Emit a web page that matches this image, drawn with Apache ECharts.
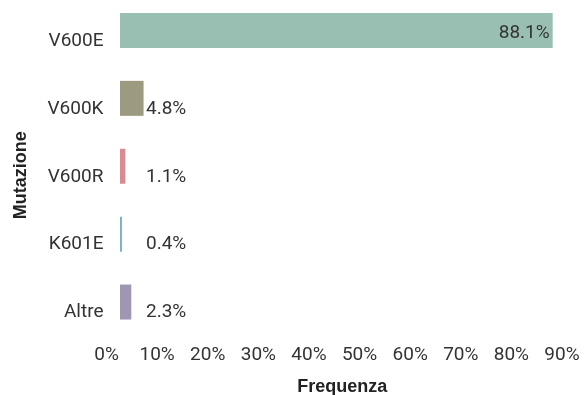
<!DOCTYPE html>
<html lang="it">
<head>
    <meta charset="UTF-8">
    <title>Mutazioni</title>
    <script src="https://cdn.jsdelivr.net/npm/echarts@6/dist/echarts.min.js"></script>
    <style>
        html, body { margin: 0; padding: 0; background: #fff; }
        #chart { width: 584px; height: 395px; }
    </style>
</head>
<body>
    <div id="chart"></div>
    <script>
        // dati
        var mutazioni = ['V600E', 'V600K', 'V600R', 'K601E', 'Altre'];
        var frequenze = [88.1, 4.8, 1.1, 0.4, 2.3];
        var colori = ['#99BFB2', '#9C9A81', '#D98C8F', '#7AB2C6', '#9F97B2'];
        var tickMax = 90;

        var myChart = echarts.init(document.getElementById('chart'));

        var serieDati = frequenze.map(function (v, i) {
            var d = { value: v, itemStyle: { color: colori[i] } };
            if (i === 0) {
                // la barra lunga ha l'etichetta dentro
                d.label = { position: 'insideRight', align: 'right', distance: 3, offset: [0, 3] };
            }
            return d;
        });

        myChart.setOption({
            animation: false,
            textStyle: { fontFamily: 'Roboto' },
            grid: { left: 106.5, right: 22, top: -3.5, bottom: 59, outerBoundsMode: 'none' },
            xAxis: [{
                type: 'value',
                min: 0,
                max: tickMax,
                interval: 10,
                axisLine: { show: false },
                axisTick: { show: false },
                splitLine: { show: false },
                axisLabel: { formatter: '{value}%', color: '#333', fontSize: 19, margin: 10 },
                name: 'Frequenza',
                nameLocation: 'middle',
                nameGap: 42,
                nameTextStyle: { fontWeight: 'bold', fontSize: 18, color: '#222', fontFamily: 'Liberation Sans', padding: [0, 0, 0, 16] }
            }, {
                // asse nascosto per le barre (partono un po' a destra dello 0%)
                type: 'value',
                min: -2.75,
                max: tickMax,
                show: false
            }],
            yAxis: {
                type: 'category',
                inverse: true,
                data: mutazioni,
                axisLine: { show: false, onZero: false },
                axisTick: { show: false },
                axisLabel: { color: '#333', fontSize: 19, margin: 3, verticalAlign: 'top', lineHeight: 21 },
                name: 'Mutazione',
                nameLocation: 'middle',
                nameRotate: 90,
                nameGap: 76,
                nameTextStyle: { fontWeight: 'bold', fontSize: 18, color: '#222', fontFamily: 'Liberation Sans', padding: [0, 18, 0, 0] }
            },
            series: [{
                type: 'bar',
                xAxisIndex: 1,
                barWidth: 35,
                data: serieDati,
                label: {
                    show: true,
                    position: [26, 28],
                    align: 'left',
                    verticalAlign: 'middle',
                    color: '#333',
                    fontSize: 19,
                    formatter: function (p) { return p.value.toFixed(1) + '%'; }
                }
            }]
        });
    </script>
</body>
</html>
